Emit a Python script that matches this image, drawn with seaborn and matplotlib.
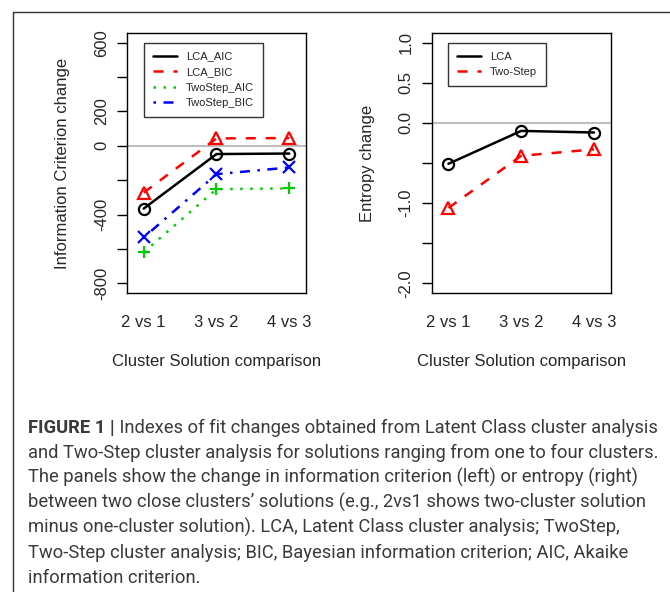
import pandas as pd
import numpy as np
import matplotlib
matplotlib.use('Agg')
import matplotlib.pyplot as plt
from matplotlib.lines import Line2D
import seaborn as sns


# ---- data ---- #
comparisons = ['2 vs 1', '3 vs 2', '4 vs 3']

# information criterion change (left panel)
lca_aic = [-365, -48, -45]
lca_bic = [-272, 43, 45]
twostep_aic = [-619, -252, -248]
twostep_bic = [-533, -165, -126]

# entropy change (right panel)
lca_entropy = [-0.51, -0.10, -0.12]
twostep_entropy = [-1.06, -0.41, -0.33]

ic_ticks = [600, 400, 200, 0, -200, -400, -600, -800]
ic_ticklabels = ['600', '', '200', '0', '', '-400', '', '-800']
ent_ticks = [1.0, 0.5, 0.0, -0.5, -1.0, -1.5, -2.0]
ent_ticklabels = ['1.0', '0.5', '0.0', '', '-1.0', '', '-2.0']

caption_head = 'FIGURE 1 |'
caption_lines = [
    ' Indexes of fit changes obtained from Latent Class cluster analysis',
    'and Two-Step cluster analysis for solutions ranging from one to four clusters.',
    'The panels show the change in information criterion (left) or entropy (right)',
    'between two close clusters\u2019 solutions (e.g., 2vs1 shows two-cluster solution',
    'minus one-cluster solution). LCA, Latent Class cluster analysis; TwoStep,',
    'Two-Step cluster analysis; BIC, Bayesian information criterion; AIC, Akaike',
    'information criterion.',
]


# ---- long tables for seaborn ---- #
ic = pd.DataFrame({
    'comparison': comparisons * 4,
    'series': ['LCA_AIC'] * 3 + ['LCA_BIC'] * 3 + ['TwoStep_AIC'] * 3 + ['TwoStep_BIC'] * 3,
    'value': lca_aic + lca_bic + twostep_aic + twostep_bic,
})
ent = pd.DataFrame({
    'comparison': comparisons * 2,
    'series': ['LCA'] * 3 + ['Two-Step'] * 3,
    'value': lca_entropy + twostep_entropy,
})

# R style colours / line types / symbols
ic_styles = [
    ('LCA_AIC', 'black', '-', 'o'),
    ('LCA_BIC', '#FF0000', (0, (4, 4)), '^'),
    ('TwoStep_AIC', '#00CD00', (0, (1, 3)), '+'),
    ('TwoStep_BIC', '#0000FF', (0, (1, 3, 4, 3)), 'x'),
]
ent_styles = [
    ('LCA', 'black', '-', 'o'),
    ('Two-Step', '#FF0000', (0, (4, 4)), '^'),
]


sns.set_style('ticks')
plt.rcParams['font.family'] = ['Liberation Sans', 'DejaVu Sans']
plt.rcParams['axes.unicode_minus'] = False

fig = plt.figure(figsize=(6.7, 5.92), dpi=100)
ax1 = fig.add_axes([127 / 670, 1 - 293 / 592, 179 / 670, 260 / 592])
ax2 = fig.add_axes([431.7 / 670, 1 - 293 / 592, 179 / 670, 260 / 592])


def draw_panel(ax, df, styles, ylim, ticks, ticklabels, ylabel, legend_x):
    ax.axhline(0, color='#BEBEBE', lw=1.5, zorder=1)
    handles = []
    for name, color, ls, mk in styles:
        sub = df[df['series'] == name]
        sns.lineplot(data=sub, x='comparison', y='value', ax=ax, sort=False,
                     color=color, linestyle=ls, linewidth=1.8,
                     marker=mk, markersize=8, markerfacecolor='none',
                     markeredgecolor=color, markeredgewidth=1.6, zorder=3)
        handles.append(Line2D([], [], color=color, linestyle=ls, linewidth=1.8, label=name))
    ax.set_xlim(-0.23, 2.23)
    ax.set_ylim(*ylim)
    ax.set_yticks(ticks)
    ax.set_yticklabels(ticklabels, rotation=90, va='center')
    ax.tick_params(axis='y', length=7, width=1, pad=6, labelsize=12, color='black')
    ax.tick_params(axis='x', length=0, pad=16, labelsize=12)
    ax.set_xlabel('Cluster Solution comparison', fontsize=12, labelpad=17)
    ax.set_ylabel(ylabel, fontsize=12, labelpad=17)
    for s in ax.spines.values():
        s.set_color('black')
        s.set_linewidth(1.0)
    leg = ax.legend(handles=handles, loc='upper left', bbox_to_anchor=(legend_x, 0.963),
                    borderaxespad=0, fontsize=8, frameon=True, fancybox=False,
                    handlelength=2.2, handletextpad=0.8, labelspacing=0.5,
                    borderpad=0.8)
    leg.get_frame().set_edgecolor('black')
    leg.get_frame().set_linewidth(1.0)


draw_panel(ax1, ic, ic_styles, (-856, 656), ic_ticks, ic_ticklabels,
           'Information Criterion change', 0.095)
draw_panel(ax2, ent, ent_styles, (-2.12, 1.12), ent_ticks, ent_ticklabels,
           'Entropy change', 0.089)


# ---- frame lines on the left and top ---- #
fig.add_artist(Line2D([13 / 670, 13 / 670], [0, 1 - 11.5 / 592], transform=fig.transFigure,
                      color='#333333', lw=1))
fig.add_artist(Line2D([13 / 670, 1], [1 - 11.5 / 592, 1 - 11.5 / 592], transform=fig.transFigure,
                      color='#333333', lw=1))


# ---- caption ---- #
cap_font = dict(family=['Roboto', 'DejaVu Sans'], fontsize=13.2, color='#3a3a3a')
head = fig.text(28 / 670, 1 - 433 / 592, caption_head, va='baseline',
                fontweight='bold', **cap_font)
for i, line in enumerate(caption_lines):
    if i == 0:
        ax1.annotate(line, xy=(1, 0), xycoords=head, va='bottom', ha='left',
                     annotation_clip=False, fontweight='normal', **cap_font)
    else:
        fig.text(28 / 670, 1 - (433 + 25 * i) / 592, line, va='baseline',
                 fontweight='normal', **cap_font)

fig.savefig('out.png', dpi=100)
